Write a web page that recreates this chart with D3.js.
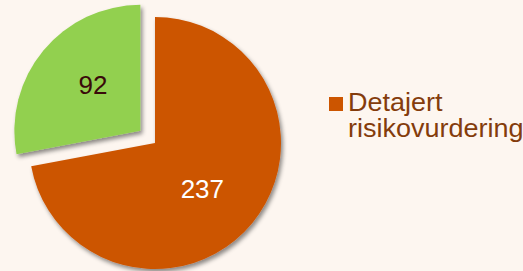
<!DOCTYPE html>
<html>
<head>
<meta charset="utf-8">
<script src="https://cdn.jsdelivr.net/npm/d3@7"></script>
<style>
  html, body { margin: 0; padding: 0; background: #FDF6F0; }
  svg { display: block; }
</style>
</head>
<body>
<svg id="chart" width="523" height="271"></svg>
<script>
const categories = ["Detajert risikovurdering", ""];
const values = [237, 92];
const legendLabels = ["Detajert", "risikovurdering"];

const colors = ["#CC5500", "#92D050"];
const labelColors = ["#FFFFFF", "#3A0A0A"];
const explode = [0, 19];

const W = 523, H = 271;
const cx = 155, cy = 143, R = 126;

const svg = d3.select("#chart");
svg.append("rect").attr("width", W).attr("height", H).attr("fill", "#FDF6F0");

const defs = svg.append("defs");
const f = defs.append("filter").attr("id", "shadow")
  .attr("x", "-20%").attr("y", "-20%").attr("width", "140%").attr("height", "140%");
f.append("feDropShadow").attr("dx", 2).attr("dy", 3).attr("stdDeviation", 2.2)
  .attr("flood-color", "#000").attr("flood-opacity", 0.45);

const pie = d3.pie().sort(null).value(d => d)
  .startAngle(0).endAngle(2 * Math.PI);
const arcs = pie(values);
const arc = d3.arc().innerRadius(0).outerRadius(R);

const g = svg.append("g").attr("transform", `translate(${cx},${cy})`);

const slices = g.selectAll("g.slice").data(arcs).enter().append("g")
  .attr("class", "slice")
  .attr("transform", (d, i) => {
    const a = (d.startAngle + d.endAngle) / 2;
    return `translate(${Math.sin(a) * explode[i]},${-Math.cos(a) * explode[i]})`;
  });

slices.append("path")
  .attr("d", arc)
  .attr("fill", (d, i) => colors[i])
  .attr("filter", "url(#shadow)");

const labelR = 66, labelShift = 4.5 * Math.PI / 180;
slices.append("text")
  .attr("x", d => Math.sin((d.startAngle + d.endAngle) / 2 + labelShift) * labelR)
  .attr("y", d => -Math.cos((d.startAngle + d.endAngle) / 2 + labelShift) * labelR)
  .attr("text-anchor", "middle")
  .attr("dy", "0.36em")
  .attr("font-family", "Liberation Sans, Arial, sans-serif")
  .attr("font-size", 26)
  .attr("fill", (d, i) => labelColors[i])
  .text(d => d.value);

// Legend (only first category)
const lg = svg.append("g");
lg.append("rect").attr("x", 329).attr("y", 97).attr("width", 14).attr("height", 14)
  .attr("fill", colors[0]);
const lt = lg.append("text")
  .attr("transform", "translate(348,0) scale(1.08,1)")
  .attr("font-family", "Liberation Sans, Arial, sans-serif")
  .attr("font-size", 25)
  .attr("fill", "#843C0C");
legendLabels.forEach((t, i) => {
  lt.append("tspan").attr("x", 0).attr("y", 111 + i * 26.5).text(t);
});
</script>
</body>
</html>
